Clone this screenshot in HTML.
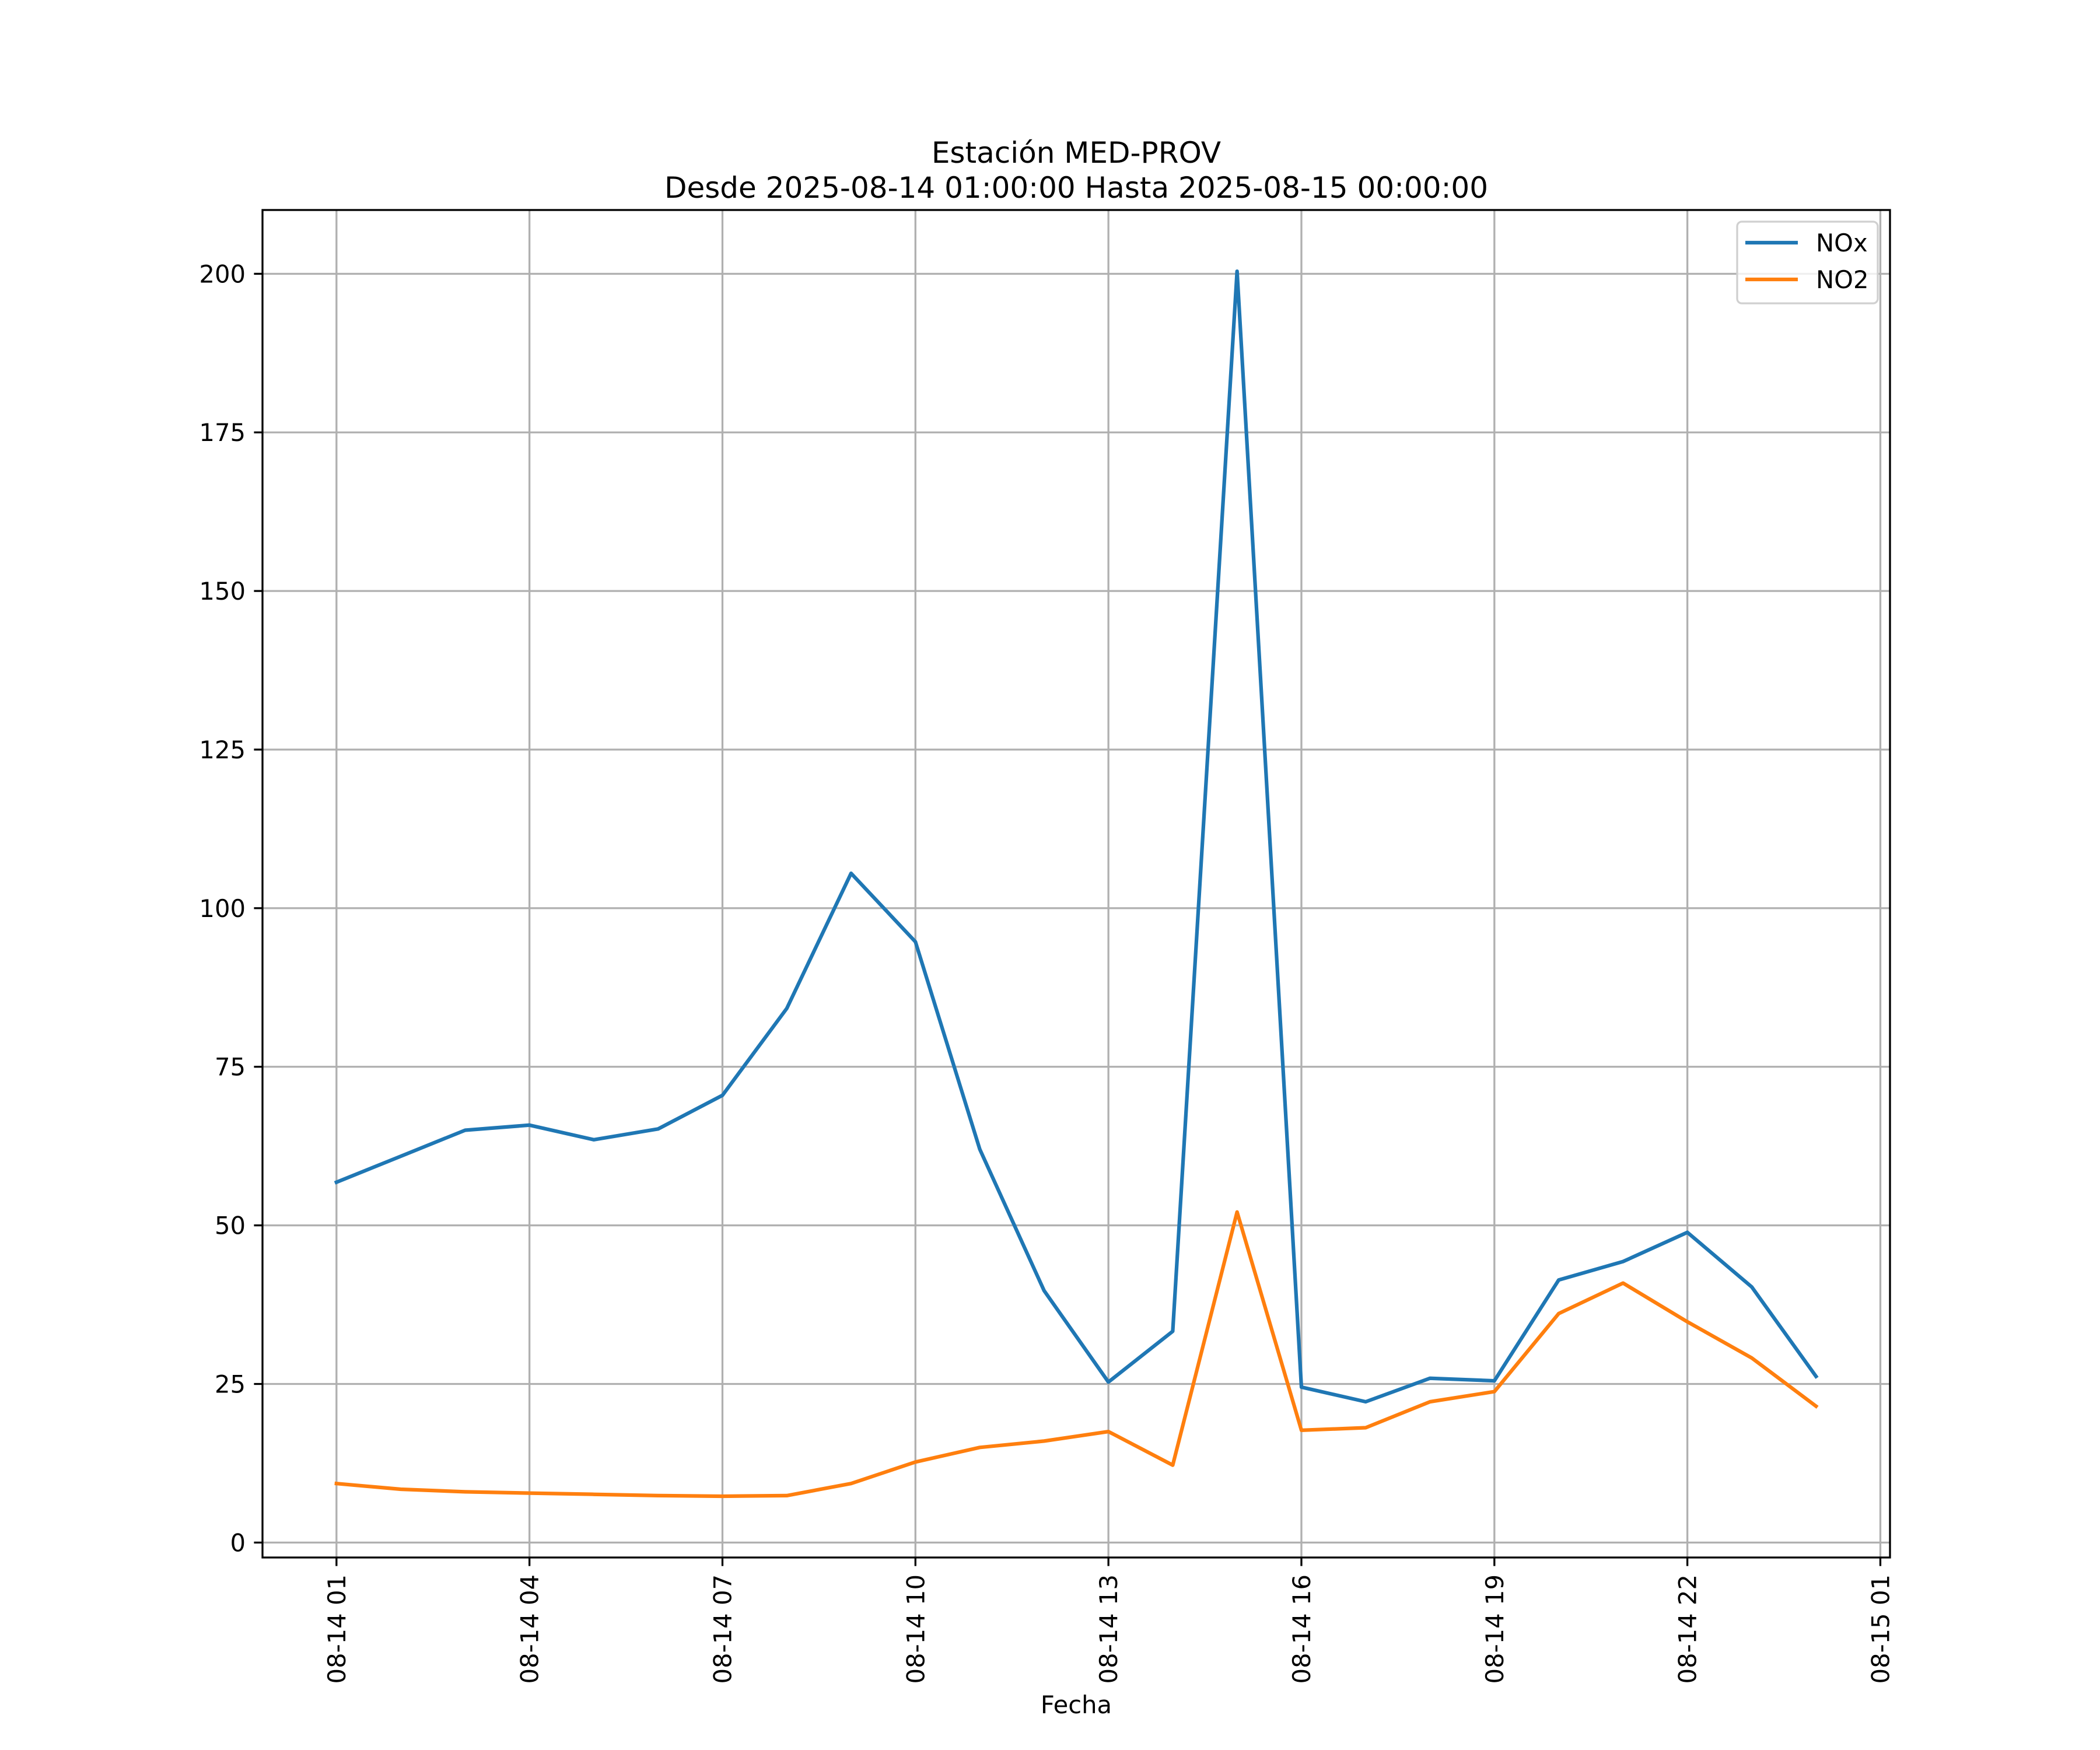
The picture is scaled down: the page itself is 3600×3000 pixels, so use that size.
<!DOCTYPE html>
<html><head><meta charset="utf-8"><style>
html,body{margin:0;padding:0;background:#fff}
svg{display:block;font-family:"DejaVu Sans","Liberation Sans",sans-serif}
</style></head><body>
<svg id="chart" width="3600" height="3000" viewBox="0 0 3600 3000" xmlns="http://www.w3.org/2000/svg">
<rect width="3600" height="3000" fill="#fff"/>
<g id="grid"></g>
<g id="series"></g>
<g id="axes"></g>
<text x="1845" y="279" font-size="50" text-anchor="middle">Estación MED-PROV</text>
<text x="1845" y="339" font-size="50" text-anchor="middle">Desde 2025-08-14 01:00:00 Hasta 2025-08-15 00:00:00</text>
<text x="1845" y="2937" font-size="41.7" text-anchor="middle">Fecha</text>
<g>
<rect x="2978" y="380" width="241" height="140" rx="8" fill="#fff" fill-opacity="0.8" stroke="#d0d0d0" stroke-width="3.3"/>
<line x1="2992" y1="416" x2="3082" y2="416" stroke="#1f77b4" stroke-width="6.25"/>
<text x="3113" y="431" font-size="41.7">NOx</text>
<line x1="2992" y1="479" x2="3082" y2="479" stroke="#ff7f0e" stroke-width="6.25"/>
<text x="3113" y="494" font-size="41.7">NO2</text>
</g>
</svg>
<script>
const hours = [1,2,3,4,5,6,7,8,9,10,11,12,13,14,15,16,17,18,19,20,21,22,23,24];
const noxValues = [56.8,60.9,65.0,65.8,63.5,65.2,70.5,84.2,105.5,94.7,62.0,39.7,25.3,33.3,200.4,24.5,22.2,25.9,25.5,41.4,44.3,48.9,40.3,26.2];
const no2Values = [9.3,8.4,8.0,7.8,7.6,7.4,7.3,7.4,9.3,12.7,15.0,16.0,17.5,12.2,52.1,17.7,18.1,22.2,23.8,36.1,40.9,34.8,29.1,21.5];
const xTickHours = [1,4,7,10,13,16,19,22,25];
const xTickLabels = ["08-14 01","08-14 04","08-14 07","08-14 10","08-14 13","08-14 16","08-14 19","08-14 22","08-15 01"];
const yTicks = [0,25,50,75,100,125,150,175,200];

const NS = "http://www.w3.org/2000/svg";
const L=450,R=3240,T=360,B=2670;
const xmin0=Math.min(...hours), xmax0=Math.max(...hours), xm=(xmax0-xmin0)*0.05;
const xlo=xmin0-xm, xhi=xmax0+xm;
const all=noxValues.concat(no2Values);
const ymin0=Math.min(...all), ymax0=Math.max(...all), ym=(ymax0-ymin0)*0.05;
const ylo=ymin0-ym, yhi=ymax0+ym;
function xs(h){return L+(h-xlo)/(xhi-xlo)*(R-L);}
function ys(v){return B-(v-ylo)/(yhi-ylo)*(B-T);}
function mk(tag,attrs,parent){const e=document.createElementNS(NS,tag);for(const k in attrs)e.setAttribute(k,attrs[k]);parent.appendChild(e);return e;}
const grid=document.getElementById('grid'), axes=document.getElementById('axes'), series=document.getElementById('series');

xTickHours.forEach((h,i)=>{
  const x=xs(h);
  const g=mk('line',{x1:x,x2:x,y1:T,y2:B,stroke:'#b0b0b0','stroke-width':3.3},grid);
  
  
  const t=mk('line',{x1:x,x2:x,y1:B,y2:B+14.6,stroke:'#000','stroke-width':3.3},axes);
  
  
  const lb=mk('text',{x:0,y:0,'font-size':41.7,'text-anchor':'end',transform:`translate(${x+15},${B+29}) rotate(-90)`},axes);
  lb.textContent=xTickLabels[i];
  
  
});
yTicks.forEach(v=>{
  const y=ys(v);
  const g=mk('line',{x1:L,x2:R,y1:y,y2:y,stroke:'#b0b0b0','stroke-width':3.3},grid);
  
  
  const t=mk('line',{x1:L-14.6,x2:L,y1:y,y2:y,stroke:'#000','stroke-width':3.3},axes);
  
  
  const lb=mk('text',{x:L-29,y:y+15,'font-size':41.7,'text-anchor':'end'},axes);
  lb.textContent=String(v);
  
  
});
const frame=mk('rect',{x:L,y:T,width:R-L,height:B-T,fill:'none',stroke:'#000','stroke-width':3.3},axes);



function line(vals,color,name){
  const d=vals.map((v,i)=>(i?'L':'M')+xs(hours[i]).toFixed(1)+' '+ys(v).toFixed(1)).join(' ');
  const p=mk('path',{d:d,fill:'none',stroke:color,'stroke-width':6.25,'stroke-linejoin':'round','stroke-linecap':'square'},series);
  
  
}
line(noxValues,'#1f77b4','nox-line');
line(no2Values,'#ff7f0e','no2-line');
</script>
</body></html>
